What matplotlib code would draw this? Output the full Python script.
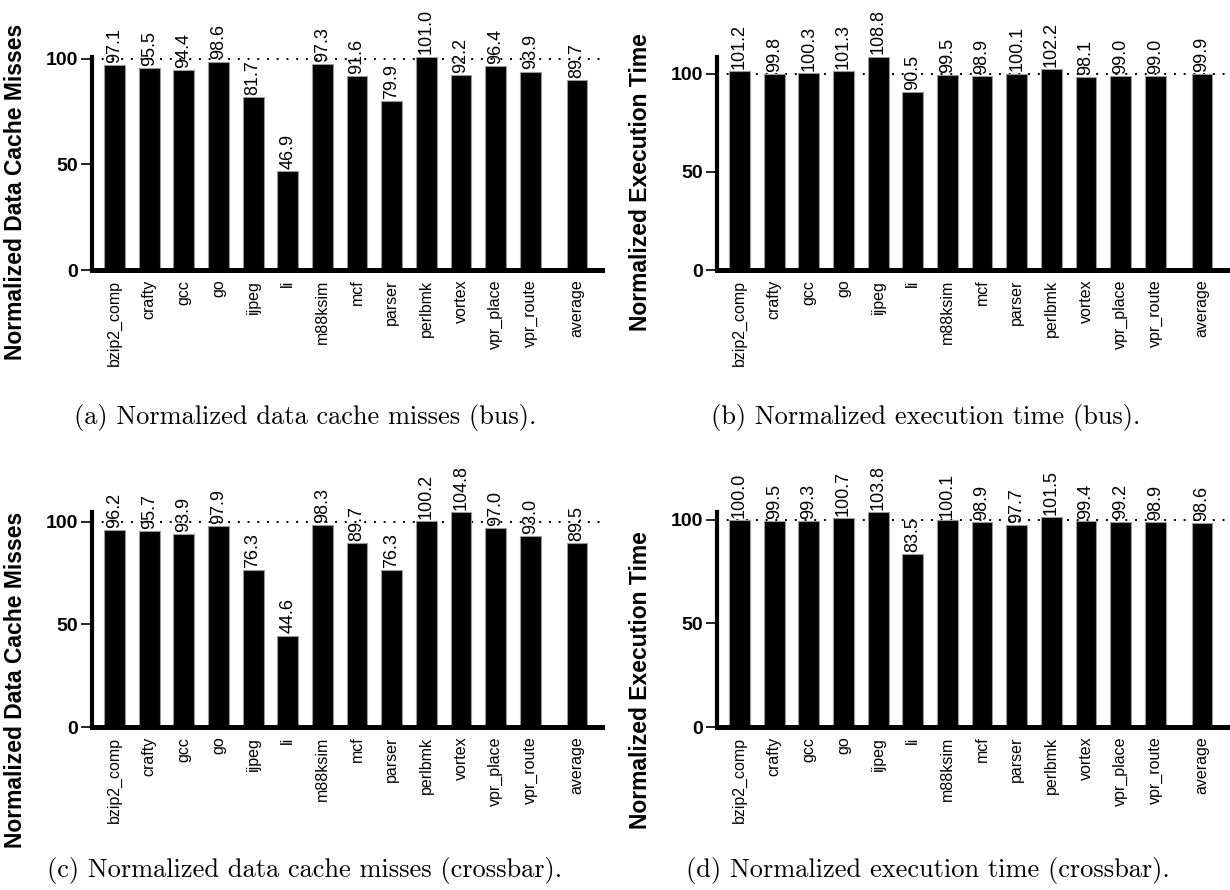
import numpy as np
import matplotlib
matplotlib.use('Agg')
import matplotlib.pyplot as plt

# benchmark names and normalized results (percent of baseline)
benchmarks = ['bzip2_comp', 'crafty', 'gcc', 'go', 'ijpeg', 'li', 'm88ksim', 'mcf',
              'parser', 'perlbmk', 'vortex', 'vpr_place', 'vpr_route', 'average']

miss_bus = [97.1, 95.5, 94.4, 98.6, 81.7, 46.9, 97.3, 91.6, 79.9, 101.0, 92.2, 96.4, 93.9, 89.7]
time_bus = [101.2, 99.8, 100.3, 101.3, 108.8, 90.5, 99.5, 98.9, 100.1, 102.2, 98.1, 99.0, 99.0, 99.9]
miss_xbar = [96.2, 95.7, 93.9, 97.9, 76.3, 44.6, 98.3, 89.7, 76.3, 100.2, 104.8, 97.0, 93.0, 89.5]
time_xbar = [100.0, 99.5, 99.3, 100.7, 103.8, 83.5, 100.1, 98.9, 97.7, 101.5, 99.4, 99.2, 98.9, 98.6]

yticks = [0, 50, 100]
miss_label = 'Normalized Data Cache Misses'
time_label = 'Normalized Execution Time'
captions = ['(a) Normalized data cache misses (bus).',
            '(b) Normalized execution time (bus).',
            '(c) Normalized data cache misses (crossbar).',
            '(d) Normalized execution time (crossbar).']

W, H = 1230, 890
SANS = 'Liberation Sans'


def px(x, y):
  # pixel position (from top-left) -> figure fraction
  return x / W, 1 - y / H


def bar_panel(fig, rect, values, ylabel, ylabel_xy):
  ax = fig.add_axes(rect)
  n = len(values)
  # the average bar sits a bit apart from the benchmarks
  xpos = np.append(np.arange(n - 1), n - 1 + 0.35)
  ax.bar(xpos, values, width=0.6, color='black', edgecolor='#9a9a9a',
         linewidth=0.8, zorder=2)
  ax.axhline(100, color='black', linestyle=(0, (1, 4)), linewidth=1.4, zorder=1)
  for x, v in zip(xpos, values):
    ax.annotate(f'{v:.1f}', (x, v), xytext=(0, 1.5), textcoords='offset points',
                ha='center', va='bottom', rotation=90, fontsize=13,
                family=SANS, annotation_clip=False)
  ax.set_xlim(-0.65, n - 1 + 1.07)
  ax.set_ylim(0, max(values))
  ax.set_yticks(yticks)
  ax.set_yticklabels([str(t) for t in yticks], fontsize=14,
                     fontweight='bold', family=SANS)
  ax.set_xticks(xpos)
  ax.set_xticklabels(benchmarks, rotation=90, fontsize=11.5, family=SANS,
                     va='top', ha='center')
  ax.tick_params(axis='x', length=0, pad=7)
  ax.tick_params(axis='y', direction='out', length=8, width=1.2, pad=2)
  for s in ['top', 'right']:
    ax.spines[s].set_visible(False)
  ax.spines['left'].set_linewidth(3)
  ax.spines['bottom'].set_linewidth(3.6)
  fx, fy = px(*ylabel_xy)
  fig.text(fx, fy, ylabel, rotation=90, ha='center', va='center',
           fontsize=16.5, fontweight='bold', family=SANS)
  return ax


fig = plt.figure(figsize=(W / 100, H / 100), dpi=100)

left_a, left_b = 92 / W, 717 / W
width = 510 / W
top_bottom, top_h = 1 - 270 / H, (270 - 56.5) / H
bot_bottom, bot_h = 1 - 727 / H, (727 - 512) / H

bar_panel(fig, [left_a, top_bottom, width, top_h], miss_bus, miss_label, (16, 192))
bar_panel(fig, [left_b, top_bottom, width, top_h], time_bus, time_label, (640, 182))
bar_panel(fig, [left_a, bot_bottom, width, bot_h], miss_xbar, miss_label, (16, 680))
bar_panel(fig, [left_b, bot_bottom, width, bot_h], time_xbar, time_label, (640, 680))

cap_pos = [(305, 418), (926, 418), (305, 870), (928, 870)]
for text, (cx, cy) in zip(captions, cap_pos):
  fx, fy = px(cx, cy)
  fig.text(fx, fy, text, ha='center', va='center', fontsize=19, family='cmr10')

fig.savefig('out.png', dpi=100)
